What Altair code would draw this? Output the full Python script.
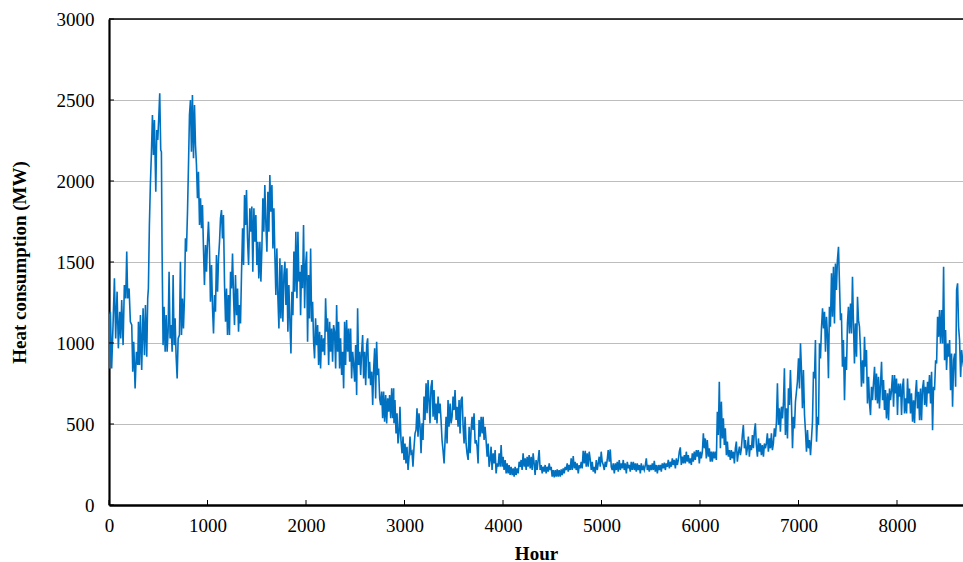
import altair as alt
import pandas as pd

# Hourly district heat load (hour of year, MW), one list per stretch of the year
winter_start = [
    (0, 1180), (5, 843), (14, 1193), (27, 843), (41, 1111), (55, 1399), (68, 1028), (82, 1317),
    (95, 967), (109, 1193), (119, 1028), (129, 1265), (143, 987), (156, 1358), (170, 1275),
    (180, 1564), (190, 1275), (204, 1337), (217, 1131), (231, 1111), (241, 823), (251, 1008),
    (265, 720), (278, 946), (292, 864), (299, 1131), (309, 864), (319, 1172), (332, 833),
    (346, 1214), (360, 925), (370, 1234), (383, 915), (393, 1275), (400, 1337), (410, 1728),
    (420, 1975), (431, 2181), (441, 2407), (451, 2160), (461, 2376), (475, 1934), (485, 2315),
    (495, 2253), (505, 2387), (515, 2541), (525, 2191), (532, 2181), (539, 1564), (549, 987),
    (559, 1224), (570, 946), (580, 1172), (590, 946), (600, 1070), (610, 1440), (620, 1028),
    (631, 1111), (641, 946), (651, 1419), (661, 987), (671, 1152), (681, 925), (692, 781),
    (702, 1028), (715, 1049), (725, 1502), (736, 1049), (746, 1275), (756, 1090), (766, 1275),
    (776, 1646), (786, 1564), (797, 1811), (807, 2099), (817, 2407), (827, 2500), (837, 2181),
    (847, 2531), (858, 2140), (868, 2469), (878, 2222), (888, 2099), (898, 1893), (908, 2057),
    (919, 1728), (929, 1893), (939, 1708), (949, 1852), (959, 1584), (969, 1358), (980, 1605),
    (990, 1440), (1000, 1625), (1010, 1749), (1020, 1584), (1030, 1255), (1041, 1481),
    (1051, 1214), (1061, 1059), (1071, 1296), (1081, 1193), (1091, 1543), (1102, 1317),
    (1112, 1523), (1122, 1625), (1132, 1769), (1142, 1821), (1152, 1646), (1162, 1790),
    (1173, 1358), (1183, 1131), (1193, 1337), (1203, 1049), (1213, 1296), (1223, 1049),
    (1234, 1440), (1244, 1337), (1254, 1553), (1264, 1296), (1274, 1111), (1284, 1419),
    (1295, 1172), (1305, 1337), (1315, 1070), (1325, 1234), (1335, 1121), (1345, 1419),
    (1356, 1708), (1366, 1481), (1376, 1913), (1386, 1728), (1396, 1944), (1406, 1646),
    (1417, 1481),
]

late_winter = [
    (1430, 1831), (1440, 1687), (1450, 1842), (1460, 1440), (1471, 1831), (1481, 1625),
    (1491, 1790), (1501, 1481), (1511, 1625), (1521, 1399), (1532, 1625), (1542, 1379),
    (1552, 1584), (1562, 1893), (1572, 1687), (1582, 1975), (1593, 1728), (1603, 1564),
    (1613, 1934), (1623, 1687), (1633, 2037), (1643, 1811), (1654, 1975), (1664, 1584),
    (1674, 1831), (1684, 1543), (1694, 1296), (1704, 1584), (1715, 1276), (1725, 1090),
    (1735, 1523), (1745, 1152), (1755, 1481), (1765, 1131), (1776, 1420), (1786, 1502),
    (1796, 1234), (1806, 1461), (1816, 1070), (1826, 1358), (1837, 1131), (1847, 936),
    (1857, 1317), (1867, 1172), (1877, 1564), (1887, 1317), (1897, 1687), (1908, 1276),
    (1918, 1687), (1928, 1379), (1938, 1440), (1945, 1172), (1955, 1481), (1965, 1338),
    (1975, 1728), (1986, 1214), (1996, 1481), (2006, 1564), (2016, 1008), (2026, 1420),
    (2036, 1152), (2047, 1584), (2057, 1131), (2067, 1255), (2077, 1008), (2087, 905),
    (2097, 1152), (2108, 987), (2118, 1111), (2128, 864), (2138, 1070), (2148, 843),
    (2158, 1049), (2169, 946), (2179, 1029), (2189, 925), (2199, 1276), (2209, 1070),
    (2219, 1152), (2230, 864), (2240, 1131), (2250, 946), (2260, 1090), (2270, 884),
    (2280, 1111), (2290, 1070), (2301, 843), (2311, 1235), (2321, 946), (2331, 1131),
    (2341, 843), (2351, 1029), (2362, 802), (2372, 946), (2382, 720), (2392, 1131),
    (2402, 864), (2412, 1142), (2423, 946), (2433, 1090), (2443, 884), (2453, 1090),
    (2463, 781), (2474, 946), (2484, 864), (2494, 761), (2504, 987), (2514, 679),
    (2524, 1214), (2534, 864), (2545, 946), (2555, 802), (2565, 946), (2575, 1049),
    (2585, 781), (2595, 946), (2606, 740), (2616, 987), (2626, 1029), (2636, 781),
    (2646, 884), (2656, 740), (2667, 823), (2677, 617), (2687, 843), (2697, 967),
    (2707, 658), (2717, 1008), (2727, 802), (2737, 843), (2748, 658), (2758, 617),
    (2768, 700), (2778, 535), (2788, 700), (2798, 514), (2809, 679), (2819, 504),
    (2829, 658), (2839, 576), (2849, 679), (2860, 535), (2870, 720), (2880, 535), (2890, 720),
]

spring = [
    (2893, 504), (2903, 648), (2914, 442), (2924, 566), (2934, 380), (2944, 442), (2954, 607),
    (2964, 401), (2975, 319), (2985, 422), (2995, 278), (3005, 380), (3015, 257), (3025, 360),
    (3036, 216), (3046, 298), (3056, 422), (3066, 319), (3076, 329), (3086, 236), (3097, 360),
    (3107, 442), (3117, 463), (3127, 597), (3137, 422), (3147, 566), (3158, 483), (3168, 319),
    (3178, 504), (3188, 401), (3198, 669), (3208, 525), (3219, 751), (3229, 566), (3239, 771),
    (3249, 648), (3259, 504), (3269, 730), (3280, 771), (3290, 545), (3300, 710), (3310, 525),
    (3320, 627), (3330, 504), (3341, 669), (3351, 566), (3361, 627), (3371, 525), (3381, 401),
    (3391, 339), (3402, 257), (3412, 401), (3422, 545), (3432, 380), (3442, 648), (3452, 483),
    (3463, 627), (3473, 504), (3483, 545), (3493, 669), (3503, 586), (3513, 710), (3524, 525),
    (3534, 607), (3544, 483), (3554, 648), (3564, 442), (3574, 648), (3585, 669), (3595, 483),
    (3605, 380), (3615, 545), (3625, 380), (3635, 319), (3646, 278), (3656, 483), (3666, 319),
    (3676, 463), (3686, 545), (3696, 463), (3706, 566), (3717, 380), (3727, 401), (3737, 360),
    (3747, 257), (3757, 525), (3767, 422), (3778, 545), (3788, 442), (3798, 545), (3808, 401),
    (3818, 483), (3828, 401), (3839, 298), (3849, 380), (3859, 236), (3869, 278), (3879, 360),
    (3889, 216), (3900, 319), (3910, 257), (3920, 339), (3930, 195), (3940, 257), (3950, 236),
    (3961, 319), (3971, 236), (3981, 370), (3991, 236), (4001, 298), (4011, 216), (4022, 278),
    (4032, 195), (4042, 257), (4052, 195), (4062, 247), (4072, 185), (4082, 236), (4093, 185),
    (4103, 226), (4113, 175), (4123, 236), (4133, 185), (4143, 226), (4154, 195), (4164, 267),
    (4174, 236), (4184, 278), (4194, 216), (4204, 319), (4215, 236), (4225, 288), (4235, 216),
    (4245, 298), (4255, 236), (4265, 308), (4276, 226), (4286, 298), (4296, 216), (4306, 319),
    (4316, 257), (4326, 185), (4336, 278), (4346, 216),
]

summer = [
    (4357, 278), (4367, 339), (4377, 216), (4388, 247), (4398, 195), (4408, 236), (4418, 206),
    (4428, 247), (4438, 195), (4448, 236), (4459, 206), (4469, 257), (4479, 216), (4489, 236),
    (4499, 175), (4509, 216), (4520, 171), (4530, 216), (4540, 175), (4550, 220), (4560, 175),
    (4570, 216), (4581, 175), (4591, 220), (4601, 185), (4611, 226), (4621, 195), (4631, 236),
    (4641, 216), (4652, 257), (4662, 206), (4672, 247), (4682, 216), (4692, 288), (4702, 216),
    (4713, 302), (4723, 226), (4733, 267), (4743, 216), (4753, 257), (4764, 195), (4774, 247),
    (4784, 226), (4794, 267), (4804, 226), (4814, 335), (4825, 257), (4835, 335), (4845, 236),
    (4855, 319), (4865, 236), (4875, 329), (4886, 278), (4896, 216), (4906, 267), (4916, 206),
    (4926, 236), (4936, 195), (4947, 278), (4957, 216), (4967, 257), (4977, 298), (4987, 236),
    (4997, 329), (5007, 267), (5018, 247), (5028, 216), (5038, 267), (5048, 236), (5058, 278),
    (5068, 339), (5079, 267), (5089, 343), (5099, 236), (5109, 216), (5119, 257), (5130, 195),
    (5140, 257), (5150, 216), (5160, 267), (5170, 206), (5180, 278), (5191, 216), (5201, 257),
    (5211, 226), (5221, 278), (5231, 216), (5241, 257), (5252, 195), (5262, 267), (5272, 226),
    (5282, 247), (5292, 206), (5302, 267), (5312, 216), (5323, 267), (5333, 216), (5343, 257),
    (5353, 206), (5363, 257), (5373, 216), (5384, 247), (5394, 195), (5404, 257), (5414, 216),
    (5424, 236), (5434, 216), (5445, 247), (5455, 288), (5465, 216), (5475, 247), (5485, 206),
    (5495, 247), (5506, 216), (5516, 257), (5526, 216), (5536, 273), (5546, 206), (5556, 247),
    (5567, 195), (5577, 247), (5587, 216), (5597, 247), (5607, 206), (5617, 257), (5628, 226),
    (5638, 261), (5648, 216), (5658, 257), (5668, 236), (5678, 278), (5689, 226), (5699, 267),
    (5709, 236), (5719, 288), (5729, 247), (5739, 278), (5750, 226), (5760, 288), (5770, 247),
    (5780, 278), (5790, 329), (5800, 356), (5810, 247), (5821, 298), (5831, 257), (5841, 308),
    (5851, 257),
]

autumn = [
    (5861, 329), (5871, 267), (5881, 308), (5891, 257), (5902, 288), (5912, 247), (5922, 319),
    (5932, 267), (5942, 329), (5952, 278), (5963, 339), (5973, 298), (5983, 339), (5993, 257),
    (6003, 329), (6013, 288), (6024, 329), (6034, 442), (6044, 350), (6054, 411), (6064, 288),
    (6074, 401), (6085, 298), (6095, 350), (6105, 267), (6115, 329), (6125, 267), (6135, 329),
    (6146, 288), (6156, 329), (6166, 278), (6176, 576), (6186, 432), (6196, 761), (6207, 350),
    (6217, 638), (6227, 411), (6237, 535), (6247, 370), (6257, 473), (6268, 308), (6278, 391),
    (6288, 298), (6298, 339), (6308, 278), (6318, 339), (6329, 288), (6339, 329), (6349, 257),
    (6359, 350), (6369, 391), (6379, 267), (6389, 319), (6400, 360), (6410, 308), (6420, 350),
    (6430, 432), (6440, 494), (6451, 350), (6461, 401), (6471, 308), (6481, 350), (6491, 422),
    (6501, 298), (6511, 370), (6522, 339), (6532, 432), (6542, 350), (6552, 452), (6562, 504),
    (6572, 370), (6583, 298), (6593, 411), (6603, 329), (6613, 380), (6623, 308), (6633, 370),
    (6644, 298), (6654, 380), (6664, 350), (6674, 380), (6684, 442), (6694, 329), (6705, 411),
    (6715, 350), (6725, 442), (6735, 339), (6745, 380), (6755, 473), (6766, 422), (6776, 514),
    (6786, 751), (6796, 494), (6806, 597), (6816, 452), (6827, 607), (6837, 535), (6847, 627),
    (6857, 844), (6867, 432), (6877, 597), (6888, 411), (6898, 720), (6908, 617), (6918, 833),
    (6928, 638), (6939, 350), (6949, 545), (6959, 473), (6969, 638), (6979, 699), (6989, 761),
    (7000, 905), (7010, 720), (7020, 998), (7030, 833), (7040, 597), (7050, 833), (7061, 555),
    (7071, 452), (7081, 329), (7091, 463), (7101, 350), (7111, 401), (7122, 308), (7132, 411),
    (7142, 514), (7152, 823), (7162, 782), (7172, 1018), (7183, 391), (7193, 545), (7203, 494),
    (7213, 998), (7223, 905), (7233, 1090), (7244, 1214), (7254, 1090), (7264, 1193),
    (7274, 946), (7284, 1162), (7294, 1049), (7304, 782),
]

winter_end = [
    (7314, 1224), (7324, 1100), (7335, 1430), (7345, 1162), (7355, 1471), (7365, 1121),
    (7375, 1491), (7385, 1327), (7395, 1512), (7406, 1594), (7416, 1368), (7426, 1141),
    (7436, 1183), (7446, 853), (7456, 1018), (7467, 647), (7477, 915), (7487, 833),
    (7497, 1121), (7507, 1224), (7517, 1059), (7528, 1244), (7538, 1059), (7548, 1409),
    (7558, 1121), (7568, 874), (7578, 1121), (7589, 915), (7599, 1285), (7609, 1141),
    (7619, 1100), (7629, 956), (7639, 730), (7650, 894), (7660, 750), (7670, 1038),
    (7680, 853), (7690, 956), (7700, 627), (7711, 791), (7721, 627), (7731, 555), (7741, 730),
    (7751, 647), (7761, 750), (7772, 853), (7782, 647), (7792, 812), (7802, 627), (7812, 791),
    (7822, 596), (7833, 750), (7843, 884), (7853, 647), (7863, 771), (7873, 586), (7883, 709),
    (7893, 534), (7904, 689), (7914, 524), (7924, 719), (7934, 647), (7944, 709), (7954, 802),
    (7965, 606), (7975, 802), (7985, 689), (7995, 781), (8005, 555), (8015, 750), (8026, 668),
    (8036, 750), (8046, 555), (8056, 730), (8066, 781), (8076, 565), (8087, 658), (8097, 565),
    (8107, 781), (8117, 627), (8127, 719), (8137, 565), (8147, 689), (8158, 514), (8168, 647),
    (8178, 507), (8188, 689), (8198, 771), (8208, 596), (8219, 699), (8229, 524), (8239, 719),
    (8249, 524), (8259, 719), (8270, 771), (8280, 617), (8290, 730), (8300, 606), (8310, 761),
    (8320, 689), (8330, 802), (8341, 627), (8351, 822), (8361, 462), (8371, 730), (8381, 709),
    (8392, 894), (8402, 874), (8412, 1162), (8422, 1038), (8432, 1203), (8442, 997),
    (8453, 1203), (8463, 997), (8473, 1471), (8483, 894), (8493, 1080), (8503, 833),
    (8514, 997), (8524, 915), (8534, 1018), (8544, 709), (8554, 935), (8564, 606), (8575, 894),
    (8585, 935), (8595, 730), (8605, 1327), (8615, 1368), (8625, 1100), (8635, 1018),
    (8646, 791), (8656, 956), (8666, 894), (8676, 853),
]

x_ticks = [0, 1000, 2000, 3000, 4000, 5000, 6000, 7000, 8000]
y_ticks = [0, 500, 1000, 1500, 2000, 2500, 3000]

rows = winter_start + late_winter + spring + summer + autumn + winter_end
load = pd.DataFrame(rows, columns=["hour", "mw"])

FONT = "Liberation Serif"
W, H = 854, 486
x_scale = alt.Scale(domain=[0, 8670], nice=False, zero=False)
y_scale = alt.Scale(domain=[0, 3000], nice=False)

x_axis = alt.Axis(
    values=x_ticks, format="d", title="Hour", grid=False,
    ticks=False, tickSize=0, labelFlush=False,
    domainColor="black", domainWidth=2.5,
    labelFont=FONT, labelFontSize=19, labelColor="black", labelPadding=11,
    titleFont=FONT, titleFontSize=19, titleFontWeight="bold", titleColor="black",
    titleY=48, titleBaseline="middle",
)
y_axis = alt.Axis(
    values=y_ticks, format="d", title="Heat consumption (MW)",
    grid=True, gridColor="#bdbdbd", gridWidth=1.2,
    ticks=False, tickSize=0, labelFlush=False,
    domainColor="black", domainWidth=2.2,
    labelFont=FONT, labelFontSize=19, labelColor="black", labelPadding=15,
    titleFont=FONT, titleFontSize=19, titleFontWeight="bold", titleColor="black",
    titleX=-90, titleY=H / 2, titleAngle=-90, titleAlign="center", titleBaseline="middle",
)

line = alt.Chart(load).mark_line(color="#0070C0", strokeWidth=1.6, clip=True).encode(
    x=alt.X("hour:Q", scale=x_scale, axis=x_axis),
    y=alt.Y("mw:Q", scale=y_scale, axis=y_axis),
)

# inward tick marks on both axes
y_tick_marks = alt.Chart(pd.DataFrame({"mw": y_ticks})).mark_rule(
    color="black", strokeWidth=1
).encode(y=alt.Y("mw:Q", scale=y_scale, axis=y_axis), x=alt.value(0), x2=alt.value(5))

x_tick_marks = alt.Chart(pd.DataFrame({"hour": x_ticks})).mark_rule(
    color="black", strokeWidth=1
).encode(x=alt.X("hour:Q", scale=x_scale, axis=x_axis), y=alt.value(H), y2=alt.value(H - 5))

# top frame line
top_rule = alt.Chart(pd.DataFrame({"mw": [3000]})).mark_rule(
    color="black", strokeWidth=1.5
).encode(y=alt.Y("mw:Q", scale=y_scale, axis=y_axis), x=alt.value(0), x2=alt.value(W))

chart = (
    alt.layer(line, y_tick_marks, x_tick_marks, top_rule)
    .properties(
        width=W,
        height=H,
        padding={"left": 109, "top": 19, "right": 0, "bottom": 57},
        autosize=alt.AutoSizeParams(type="none"),
        background="white",
    )
    .configure_view(stroke=None)
)

chart.save("out.html", embed_options={"renderer": "svg", "actions": False})
